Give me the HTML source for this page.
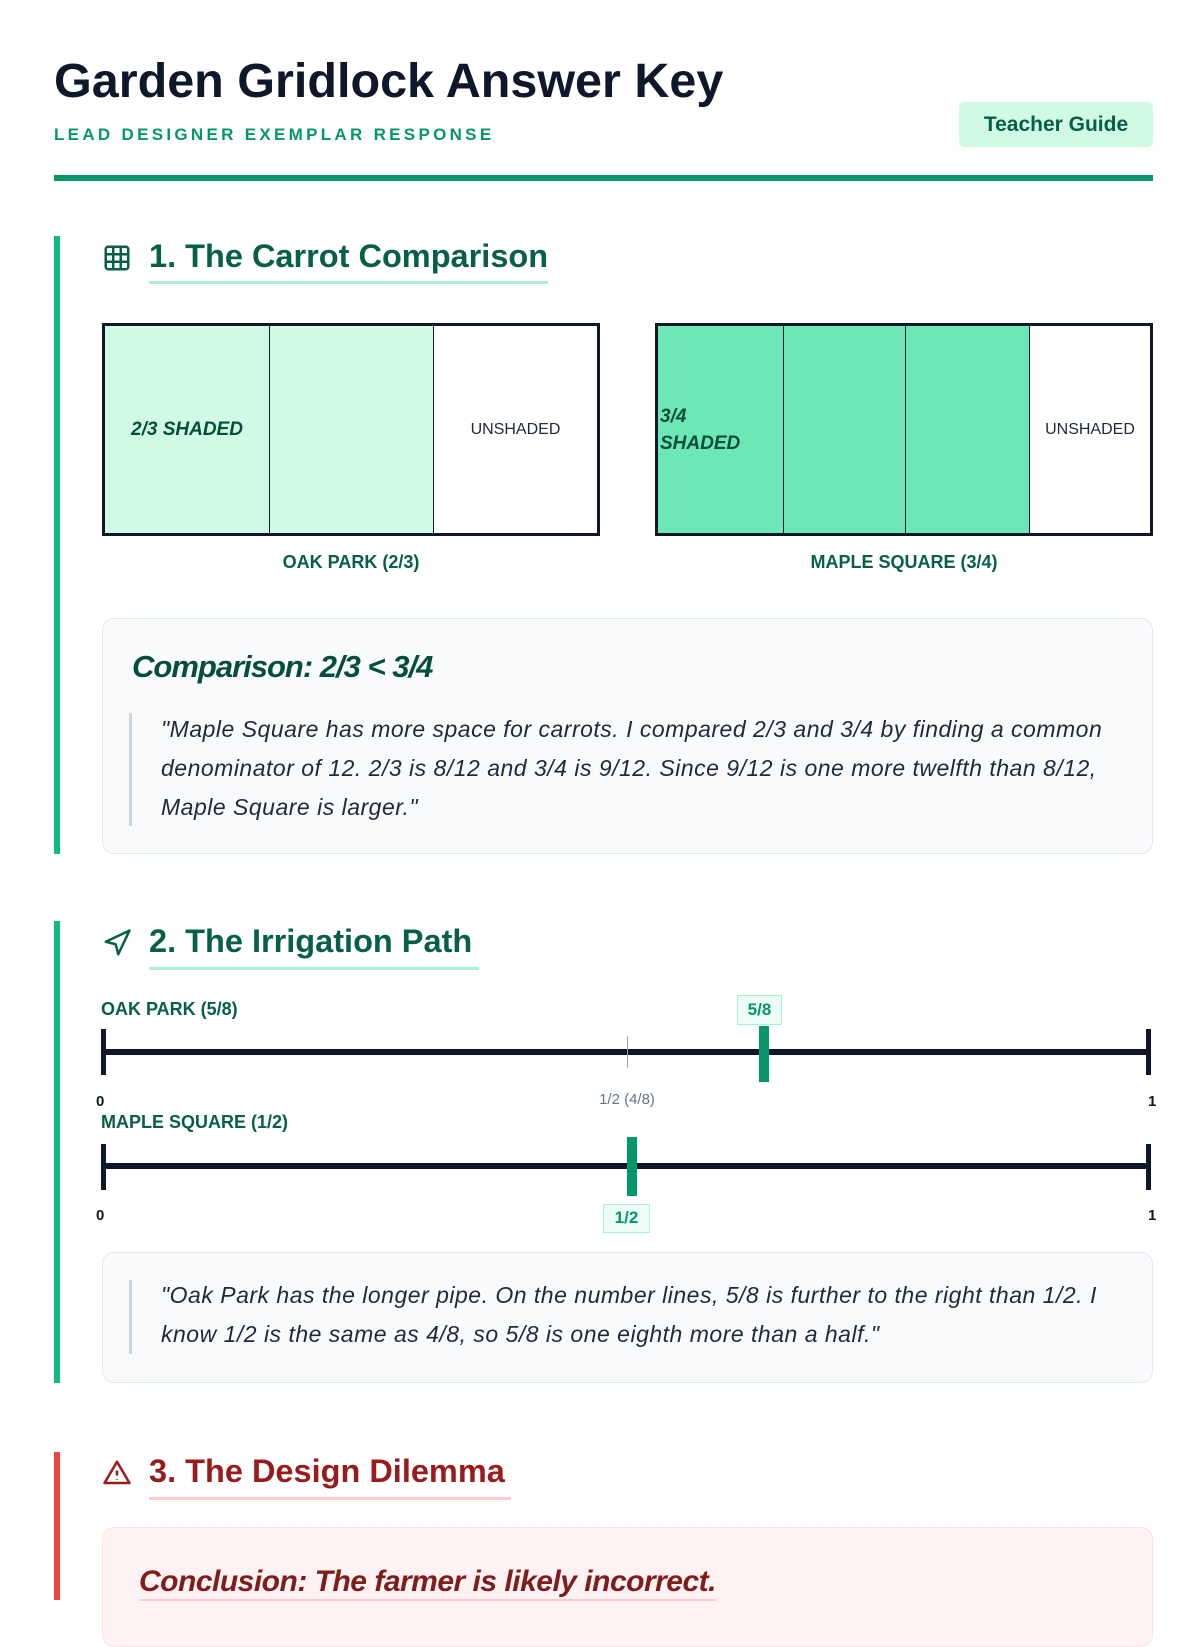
<!DOCTYPE html>
<html><head><meta charset="utf-8"><style>
*{margin:0;padding:0;box-sizing:border-box}
body{width:1200px;height:1600px;background:#fff;font-family:"Liberation Sans",sans-serif;position:relative;overflow:hidden;color:#0f172a}
.a{position:absolute;white-space:nowrap}
.g{color:#064e3b}
</style></head><body>
<div class="a" style="left:54px;top:53px;font-size:48.5px;font-weight:bold;color:#0f172a">Garden Gridlock Answer Key</div>
<div class="a" style="left:54px;top:125px;font-size:17px;font-weight:bold;color:#059669;letter-spacing:3.3px">LEAD DESIGNER EXEMPLAR RESPONSE</div>
<div class="a" style="left:959px;top:102px;width:194px;height:45px;background:#d1fae5;border-radius:5px;font-size:21px;font-weight:bold;color:#065f46;text-align:center;line-height:45px">Teacher Guide</div>
<div class="a" style="left:54px;top:175px;width:1099px;height:6px;background:#059669"></div>

<!-- section 1 -->
<div class="a" style="left:54px;top:236px;width:6px;height:618px;background:#10b981"></div>
<svg class="a" style="left:102px;top:243px" width="30" height="30" viewBox="0 0 24 24" fill="none" stroke="#065f46" stroke-width="2"><rect x="3" y="3" width="18" height="18" rx="2"/><path d="M3 9h18M3 15h18M9 3v18M15 3v18"/></svg>
<div class="a g" style="left:149px;top:238px;font-size:32.5px;font-weight:bold;color:#065f46">1. The Carrot Comparison</div>
<div class="a" style="left:149px;top:281px;width:399px;height:3px;background:#a7f3d0"></div>

<div class="a" style="left:102px;top:323px;width:498px;height:213px;border:3px solid #0f172a;display:flex">
 <div style="width:165px;background:#d1fae5;border-right:1.5px solid #0f172a;display:flex;align-items:center;justify-content:center;font-size:19px;font-weight:bold;font-style:italic;color:#064e3b">2/3 SHADED</div>
 <div style="width:164px;background:#d1fae5;border-right:1.5px solid #0f172a"></div>
 <div style="flex:1;display:flex;align-items:center;justify-content:center;font-size:16px;color:#1e293b">UNSHADED</div>
</div>
<div class="a" style="left:102px;top:552px;width:498px;text-align:center;font-size:18px;font-weight:bold;color:#065f46">OAK PARK (2/3)</div>

<div class="a" style="left:655px;top:323px;width:498px;height:213px;border:3px solid #0f172a;display:flex">
 <div style="width:126px;background:#6ee7b7;border-right:1.5px solid #0f172a;display:flex;align-items:center;font-size:19px;font-weight:bold;font-style:italic;color:#064e3b;padding-left:2px;white-space:normal;line-height:27px">3/4<br>SHADED</div>
 <div style="width:122px;background:#6ee7b7;border-right:1.5px solid #0f172a"></div>
 <div style="width:124px;background:#6ee7b7;border-right:1.5px solid #0f172a"></div>
 <div style="flex:1;display:flex;align-items:center;justify-content:center;font-size:16px;color:#1e293b">UNSHADED</div>
</div>
<div class="a" style="left:655px;top:552px;width:498px;text-align:center;font-size:18px;font-weight:bold;color:#065f46">MAPLE SQUARE (3/4)</div>

<div class="a" style="left:102px;top:618px;width:1051px;height:236px;background:#f8fafc;border:1.5px solid #e2e8f0;border-radius:12px"></div>
<div class="a" style="left:132px;top:649px;font-size:31px;font-weight:bold;font-style:italic;color:#064e3b;letter-spacing:-1px">Comparison: 2/3 &lt; 3/4</div>
<div class="a" style="left:129px;top:713px;width:3px;height:113px;background:#cbd5e1"></div>
<div class="a" style="left:161px;top:710px;font-size:23px;font-style:italic;line-height:39px;color:#1e293b;letter-spacing:0.5px">"Maple Square has more space for carrots. I compared 2/3 and 3/4 by finding a common<br>denominator of 12. 2/3 is 8/12 and 3/4 is 9/12. Since 9/12 is one more twelfth than 8/12,<br>Maple Square is larger."</div>

<!-- section 2 -->
<div class="a" style="left:54px;top:921px;width:6px;height:462px;background:#10b981"></div>
<svg class="a" style="left:102px;top:928px" width="30" height="30" viewBox="0 0 24 24" fill="none" stroke="#065f46" stroke-width="2" stroke-linejoin="round"><path d="M3 11 22 2 13 21 11 13 3 11z"/></svg>
<div class="a" style="left:149px;top:923px;font-size:32.5px;font-weight:bold;color:#065f46">2. The Irrigation Path</div>
<div class="a" style="left:149px;top:967px;width:330px;height:3px;background:#a7f3d0"></div>

<div class="a" style="left:101px;top:999px;font-size:18px;font-weight:bold;color:#065f46">OAK PARK (5/8)</div>
<div class="a" style="left:104px;top:1049px;width:1046px;height:6px;background:#0f172a"></div>
<div class="a" style="left:101px;top:1029px;width:5px;height:46px;background:#0f172a"></div>
<div class="a" style="left:1146px;top:1029px;width:5px;height:46px;background:#0f172a"></div>
<div class="a" style="left:627px;top:1036px;width:1px;height:32px;background:#94a3b8"></div>
<div class="a" style="left:759px;top:1026px;width:10px;height:56px;background:#059669"></div>
<div class="a" style="left:737px;top:995px;width:45px;height:30px;background:#ecfdf5;border:1.5px solid #a7f3d0;font-size:17px;font-weight:bold;color:#059669;text-align:center;line-height:27px">5/8</div>
<div class="a" style="left:96px;top:1093px;font-size:15px;font-weight:bold">0</div>
<div class="a" style="left:1148px;top:1093px;font-size:15px;font-weight:bold">1</div>
<div class="a" style="left:577px;top:1091px;width:100px;text-align:center;font-size:15px;color:#64748b">1/2 (4/8)</div>

<div class="a" style="left:101px;top:1112px;font-size:18px;font-weight:bold;color:#065f46">MAPLE SQUARE (1/2)</div>
<div class="a" style="left:104px;top:1163px;width:1046px;height:6px;background:#0f172a"></div>
<div class="a" style="left:101px;top:1144px;width:5px;height:46px;background:#0f172a"></div>
<div class="a" style="left:1146px;top:1144px;width:5px;height:46px;background:#0f172a"></div>
<div class="a" style="left:627px;top:1137px;width:10px;height:59px;background:#059669"></div>
<div class="a" style="left:603px;top:1204px;width:47px;height:29px;background:#ecfdf5;border:1.5px solid #a7f3d0;font-size:17px;font-weight:bold;color:#059669;text-align:center;line-height:26px">1/2</div>
<div class="a" style="left:96px;top:1207px;font-size:15px;font-weight:bold">0</div>
<div class="a" style="left:1148px;top:1207px;font-size:15px;font-weight:bold">1</div>

<div class="a" style="left:102px;top:1252px;width:1051px;height:131px;background:#f8fafc;border:1.5px solid #e2e8f0;border-radius:12px"></div>
<div class="a" style="left:129px;top:1280px;width:3px;height:74px;background:#cbd5e1"></div>
<div class="a" style="left:161px;top:1276px;font-size:23px;font-style:italic;line-height:39px;color:#1e293b;letter-spacing:0.5px">"Oak Park has the longer pipe. On the number lines, 5/8 is further to the right than 1/2. I<br>know 1/2 is the same as 4/8, so 5/8 is one eighth more than a half."</div>

<!-- section 3 -->
<div class="a" style="left:54px;top:1452px;width:6px;height:148px;background:#ef4444"></div>
<svg class="a" style="left:102px;top:1458px" width="30" height="30" viewBox="0 0 24 24" fill="none" stroke="#991b1b" stroke-width="2" stroke-linejoin="round"><path d="M12 3 22 20H2L12 3z"/><path d="M12 10v4M12 17v.5"/></svg>
<div class="a" style="left:149px;top:1453px;font-size:32.5px;font-weight:bold;color:#991b1b">3. The Design Dilemma</div>
<div class="a" style="left:149px;top:1497px;width:362px;height:3px;background:#fecaca"></div>
<div class="a" style="left:102px;top:1527px;width:1051px;height:120px;background:#fef2f2;border:1.5px solid #fee2e2;border-radius:12px"></div>
<div class="a" style="left:139px;top:1564px;font-size:30px;font-weight:bold;font-style:italic;color:#7f1d1d;letter-spacing:-0.5px;border-bottom:2px solid #fecaca;line-height:35px">Conclusion: The farmer is likely incorrect.</div>
</body></html>
